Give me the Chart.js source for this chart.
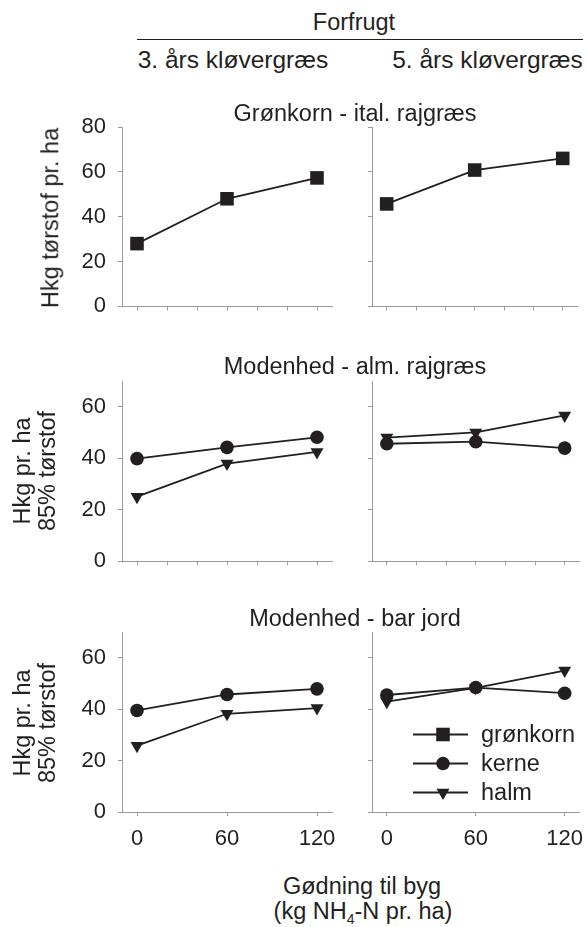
<!DOCTYPE html>
<html>
<head>
<meta charset="utf-8">
<script src="https://cdn.jsdelivr.net/npm/chart.js@4/dist/chart.umd.min.js"></script>
<style>
  html, body { margin: 0; padding: 0; background: #fff; }
  #wrap { position: relative; width: 587px; height: 927px; overflow: hidden; background: #fff; }
  #wrap canvas { position: absolute; }
  .t { position: absolute; white-space: nowrap; color: #231f20;
       font-family: 'Liberation Sans', Arial, Helvetica, sans-serif; }
</style>
</head>
<body>
<div id="wrap"></div>
<script>
// ---------------- DATA ----------------
const doses = [0, 60, 120];                 // kg NH4-N pr. ha
const xTickLabels = ['0', '60', '120'];
const yTicksTop = [0, 20, 40, 60, 80];
const yTicksLower = [0, 20, 40, 60];

const seriesNames = ['grønkorn', 'kerne', 'halm'];

// Grønkorn - ital. rajgræs (Hkg tørstof pr. ha)
const gronkorn3 = [28.0, 48.0, 57.3];
const gronkorn5 = [45.7, 60.8, 66.0];

// Modenhed - alm. rajgræs (Hkg pr. ha, 85% tørstof)
const almKerne3 = [39.8, 44.2, 48.1];
const almHalm3  = [25.0, 37.9, 42.4];
const almKerne5 = [45.6, 46.4, 43.9];
const almHalm5  = [48.0, 50.0, 56.6];

// Modenhed - bar jord (Hkg pr. ha, 85% tørstof)
const barKerne3 = [39.5, 45.7, 47.9];
const barHalm3  = [25.8, 38.2, 40.4];
const barKerne5 = [45.5, 48.4, 46.2];
const barHalm5  = [42.9, 48.3, 55.0];

// ---------------- STYLE ----------------
const INK = '#231f20';
const AXIS = '#9a9a9a';
const FONT = "'Liberation Sans', Arial, Helvetica, sans-serif";
const TITLE_SIZE = 23.5;
const HEAD_SIZE = 24.5;
const TICK_SIZE = 22;

const markerStyle = {
  'grønkorn': { pointStyle: 'rect', radius: 9.6, rotation: 0 },
  'kerne':    { pointStyle: 'circle', radius: 6.8, rotation: 0 },
  'halm':     { pointStyle: 'triangle', radius: 7.5, rotation: 180 }
};

function ds(name, values) {
  const m = markerStyle[name];
  return {
    label: name,
    data: doses.map((d, i) => ({ x: d, y: values[i] })),
    borderColor: INK,
    backgroundColor: INK,
    borderWidth: 1.8,
    pointStyle: m.pointStyle,
    pointRadius: m.radius,
    pointHoverRadius: m.radius,
    pointRotation: m.rotation,
    pointBackgroundColor: INK,
    pointBorderColor: INK,
    pointBorderWidth: 0,
    tension: 0,
    clip: false
  };
}

// ---------------- LAYOUT ----------------
const wrap = document.getElementById('wrap');
const rows = [
  { top: 127, bottom: 308, max: 80, yTicks: yTicksTop, bottomRow: false },
  { top: 380.7, bottom: 561, max: 70, yTicks: yTicksLower, bottomRow: false },
  { top: 632.3, bottom: 812.7, max: 70, yTicks: yTicksLower, bottomRow: true }
];
const cols = [
  { left: 122, right: 332, yW: 122, padR: 20, labels: true },
  { left: 372, right: 582, yW: 10, padR: 5, labels: false }
];

const panelData = [
  [[ds('grønkorn', gronkorn3)], [ds('grønkorn', gronkorn5)]],
  [[ds('kerne', almKerne3), ds('halm', almHalm3)], [ds('kerne', almKerne5), ds('halm', almHalm5)]],
  [[ds('kerne', barKerne3), ds('halm', barHalm3)], [ds('kerne', barKerne5), ds('halm', barHalm5)]]
];

function drawMarker(ctx, style, x, y) {
  const m = markerStyle[style];
  ctx.beginPath();
  if (m.pointStyle === 'rect') {
    const s = Math.SQRT1_2 * m.radius;
    ctx.rect(x - s, y - s, 2 * s, 2 * s);
  } else if (m.pointStyle === 'circle') {
    ctx.arc(x, y, m.radius, 0, Math.PI * 2);
  } else {
    const r = m.radius;
    const rad = m.rotation * Math.PI / 180;
    for (let k = 0; k < 3; k++) {
      const a = rad + k * 2 * Math.PI / 3;
      const px = x + Math.sin(a) * r, py = y - Math.cos(a) * r;
      if (k === 0) ctx.moveTo(px, py); else ctx.lineTo(px, py);
    }
    ctx.closePath();
  }
  ctx.fillStyle = INK;
  ctx.fill();
}

const legendPlugin = {
  id: 'panelLegend',
  afterDatasetsDraw(chart, args, opts) {
    if (!opts || !opts.show) return;
    const ctx = chart.ctx;
    const a = chart.chartArea;
    const x0 = a.left + 41, x1 = a.left + 96, xm = a.left + 71, xt = a.left + 109;
    const rowsY = [a.bottom - 77.5, a.bottom - 48.5, a.bottom - 19.5];
    ctx.save();
    seriesNames.forEach((name, i) => {
      const y = rowsY[i];
      ctx.strokeStyle = INK;
      ctx.lineWidth = 1.8;
      ctx.beginPath(); ctx.moveTo(x0, y); ctx.lineTo(x1, y); ctx.stroke();
      drawMarker(ctx, name, xm, y);
      ctx.fillStyle = INK;
      ctx.font = TITLE_SIZE + 'px ' + FONT;
      ctx.textAlign = 'left';
      ctx.textBaseline = 'alphabetic';
      ctx.fillText(name, xt, y + 7.5);
    });
    ctx.restore();
  }
};

const padT = 16;
rows.forEach((row, ri) => {
  cols.forEach((col, ci) => {
    const xH = row.bottomRow ? 46 : 8;
    const w = col.yW + (col.right - col.left) + col.padR;
    const chartH = row.bottom - row.top;
    const h = padT + chartH + xH;
    const cv = document.createElement('canvas');
    cv.width = Math.round(w); cv.height = Math.round(h);
    cv.style.left = (col.left - col.yW) + 'px';
    cv.style.top = (row.top - padT) + 'px';
    cv.style.width = Math.round(w) + 'px';
    cv.style.height = Math.round(h) + 'px';
    wrap.appendChild(cv);
    const xTickVals = row.bottomRow ? doses : [0, 20, 40, 60, 80, 100, 120];
    new Chart(cv, {
      type: 'line',
      data: { datasets: panelData[ri][ci] },
      plugins: [legendPlugin],
      options: {
        responsive: false,
        animation: false,
        devicePixelRatio: 1,
        events: [],
        layout: { padding: { top: padT, right: col.padR, bottom: h - padT - chartH - xH, left: 0 } },
        plugins: {
          legend: { display: false },
          title: { display: false },
          tooltip: { enabled: false },
          panelLegend: { show: ri === 2 && ci === 1 }
        },
        scales: {
          x: {
            type: 'linear',
            min: -10, max: 130,
            afterBuildTicks: s => { s.ticks = xTickVals.map(v => ({ value: v })); },
            afterFit: s => { s.height = xH; s.paddingLeft = 0; s.paddingRight = 0; },
            border: { display: true, color: AXIS, width: 1 },
            grid: { display: true, drawOnChartArea: false, drawTicks: true, tickLength: 4, color: AXIS, lineWidth: 1 },
            ticks: {
              display: row.bottomRow,
              autoSkip: false,
              maxRotation: 0,
              padding: 10,
              color: INK,
              font: { family: FONT, size: TICK_SIZE },
              callback: v => { const i = doses.indexOf(v); return i >= 0 ? xTickLabels[i] : ''; }
            }
          },
          y: {
            type: 'linear',
            min: 0, max: row.max,
            afterBuildTicks: s => { s.ticks = row.yTicks.map(v => ({ value: v })); },
            afterFit: s => { s.width = col.yW; s.paddingTop = 0; s.paddingBottom = 0; },
            border: { display: true, color: AXIS, width: 1 },
            grid: { display: true, drawOnChartArea: false, drawTicks: true, tickLength: 4, color: AXIS, lineWidth: 1 },
            ticks: {
              display: col.labels,
              padding: 12,
              color: INK,
              font: { family: FONT, size: TICK_SIZE },
              callback: v => String(v)
            }
          }
        }
      }
    });
  });
});

// ---------------- TEXT ----------------
function text(str, cx, baseline, size, html) {
  const d = document.createElement('div');
  d.className = 't';
  d.style.fontSize = size + 'px';
  d.style.lineHeight = size + 'px';
  d.style.left = cx + 'px';
  d.style.top = (baseline - 0.8465 * size) + 'px';
  d.style.transform = 'translateX(-50%)';
  if (html) d.innerHTML = str; else d.textContent = str;
  wrap.appendChild(d);
}
function vtext(str, baselineX, cy, size) {
  const d = document.createElement('div');
  d.className = 't';
  d.style.fontSize = size + 'px';
  d.style.lineHeight = size + 'px';
  const cx = baselineX - 0.3465 * size;
  d.style.left = cx + 'px';
  d.style.top = cy + 'px';
  d.style.transform = 'translate(-50%, -50%) rotate(-90deg)';
  d.textContent = str;
  wrap.appendChild(d);
}

text('Forfrugt', 354, 31, TITLE_SIZE);
const rule = document.createElement('div');
rule.style.cssText = 'position:absolute;left:137px;top:39px;width:446px;height:0;border-top:1.4px solid ' + INK + ';';
wrap.appendChild(rule);
text('3. års kløvergræs', 233, 69, HEAD_SIZE);
text('5. års kløvergræs', 487.5, 69, HEAD_SIZE);

text('Grønkorn - ital. rajgræs', 355, 122, TITLE_SIZE);
text('Modenhed - alm. rajgræs', 355, 375, TITLE_SIZE);
text('Modenhed - bar jord', 355, 627, TITLE_SIZE);

vtext('Hkg tørstof pr. ha', 59, 217.5, TITLE_SIZE);
vtext('Hkg pr. ha', 31, 471, TITLE_SIZE);
vtext('85% tørstof', 56, 471, TITLE_SIZE);
vtext('Hkg pr. ha', 31, 722.5, TITLE_SIZE);
vtext('85% tørstof', 56, 722.5, TITLE_SIZE);

text('Gødning til byg', 362, 895, TITLE_SIZE);
text('(kg NH<span style="font-size:14px;position:relative;top:5px;">4</span>-N pr. ha)', 363, 920, TITLE_SIZE, true);
</script>
</body>
</html>
